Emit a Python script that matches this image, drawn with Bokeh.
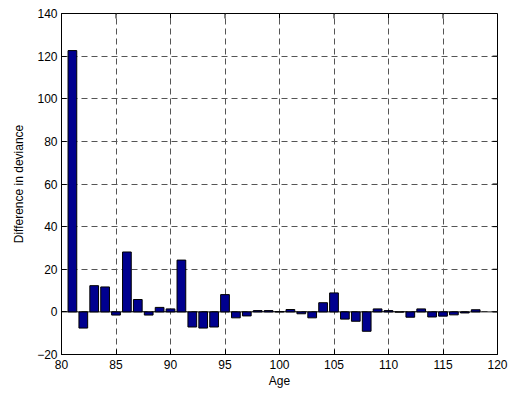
from bokeh.plotting import figure
from bokeh.models import Range1d, FixedTicker, Span, ColumnDataSource
from bokeh.embed import file_html
from bokeh.resources import INLINE

# Age groups and the change in deviance for each
ages = list(range(81, 119))
deviance_diff = [
    122.6, -7.6, 12.3, 11.7, -1.5, 28.1, 5.8, -1.5, 2.1, 1.4,
    24.3, -7.1, -7.6, -7.1, 8.1, -2.8, -1.9, 0.6, 0.6, 0.1,
    1.1, -0.9, -2.8, 4.3, 8.9, -3.4, -4.4, -9.1, 1.4, 0.6,
    -0.1, -2.5, 1.4, -2.4, -2.0, -1.4, -0.5, 1.0,
]

x_ticks = [80, 85, 90, 95, 100, 105, 110, 115, 120]
y_ticks = [-20, 0, 20, 40, 60, 80, 100, 120, 140]

FONT = "Liberation Sans"
X0, X1, Y0, Y1 = 80, 120, -20, 140

p = figure(
    width=510, height=394,
    x_range=Range1d(X0, X1), y_range=Range1d(Y0, Y1),
    output_backend="svg", toolbar_location=None,
    min_border_left=61, min_border_right=13,
    min_border_top=13, min_border_bottom=40,
    x_axis_label="Age", y_axis_label="Difference in deviance",
)
p.background_fill_color = "white"
p.border_fill_color = "white"
p.outline_line_color = "black"
p.outline_line_width = 1

# dashed grid
for g in (p.xgrid, p.ygrid):
    g.grid_line_color = "#555555"
    g.grid_line_dash = "6 4"
    g.grid_line_width = 1
p.xgrid.ticker = FixedTicker(ticks=x_ticks)
p.ygrid.ticker = FixedTicker(ticks=y_ticks)

for ax, ticks in ((p.xaxis[0], x_ticks), (p.yaxis[0], y_ticks)):
    ax.ticker = FixedTicker(ticks=ticks)
    ax.axis_line_color = "black"
    ax.major_tick_line_color = "black"
    ax.major_tick_in = 5
    ax.major_tick_out = 0
    ax.minor_tick_line_color = None
    ax.major_label_text_font = FONT
    ax.major_label_text_font_size = "12px"
    ax.major_label_text_color = "black"
    ax.axis_label_text_font = FONT
    ax.axis_label_text_font_size = "12px"
    ax.axis_label_text_font_style = "normal"
    ax.axis_label_text_color = "black"
p.xaxis[0].major_label_standoff = 5
p.xaxis[0].axis_label_standoff = 2
p.yaxis[0].major_label_standoff = 4
p.yaxis[0].axis_label_standoff = 8

# inward ticks on the top and right edges of the box (about 5 px long)
tick_dx = 5 * (X1 - X0) / 436
tick_dy = 5 * (Y1 - Y0) / 341
p.segment(x0=x_ticks, y0=[Y1] * len(x_ticks),
          x1=x_ticks, y1=[Y1 - tick_dy] * len(x_ticks),
          line_color="black", line_width=1)
p.segment(x0=[X1] * len(y_ticks), y0=y_ticks,
          x1=[X1 - tick_dx] * len(y_ticks), y1=y_ticks,
          line_color="black", line_width=1)

# zero baseline
p.add_layout(Span(location=0, dimension="width", line_color="#222222",
                  line_width=1, level="underlay"))

src = ColumnDataSource(data=dict(age=ages, diff=deviance_diff))
p.vbar(x="age", top="diff", bottom=0, width=0.8, source=src,
       fill_color="#00008F", line_color="black", line_width=1)

html = file_html(p, INLINE)
open("out.html", "w").write(html)
